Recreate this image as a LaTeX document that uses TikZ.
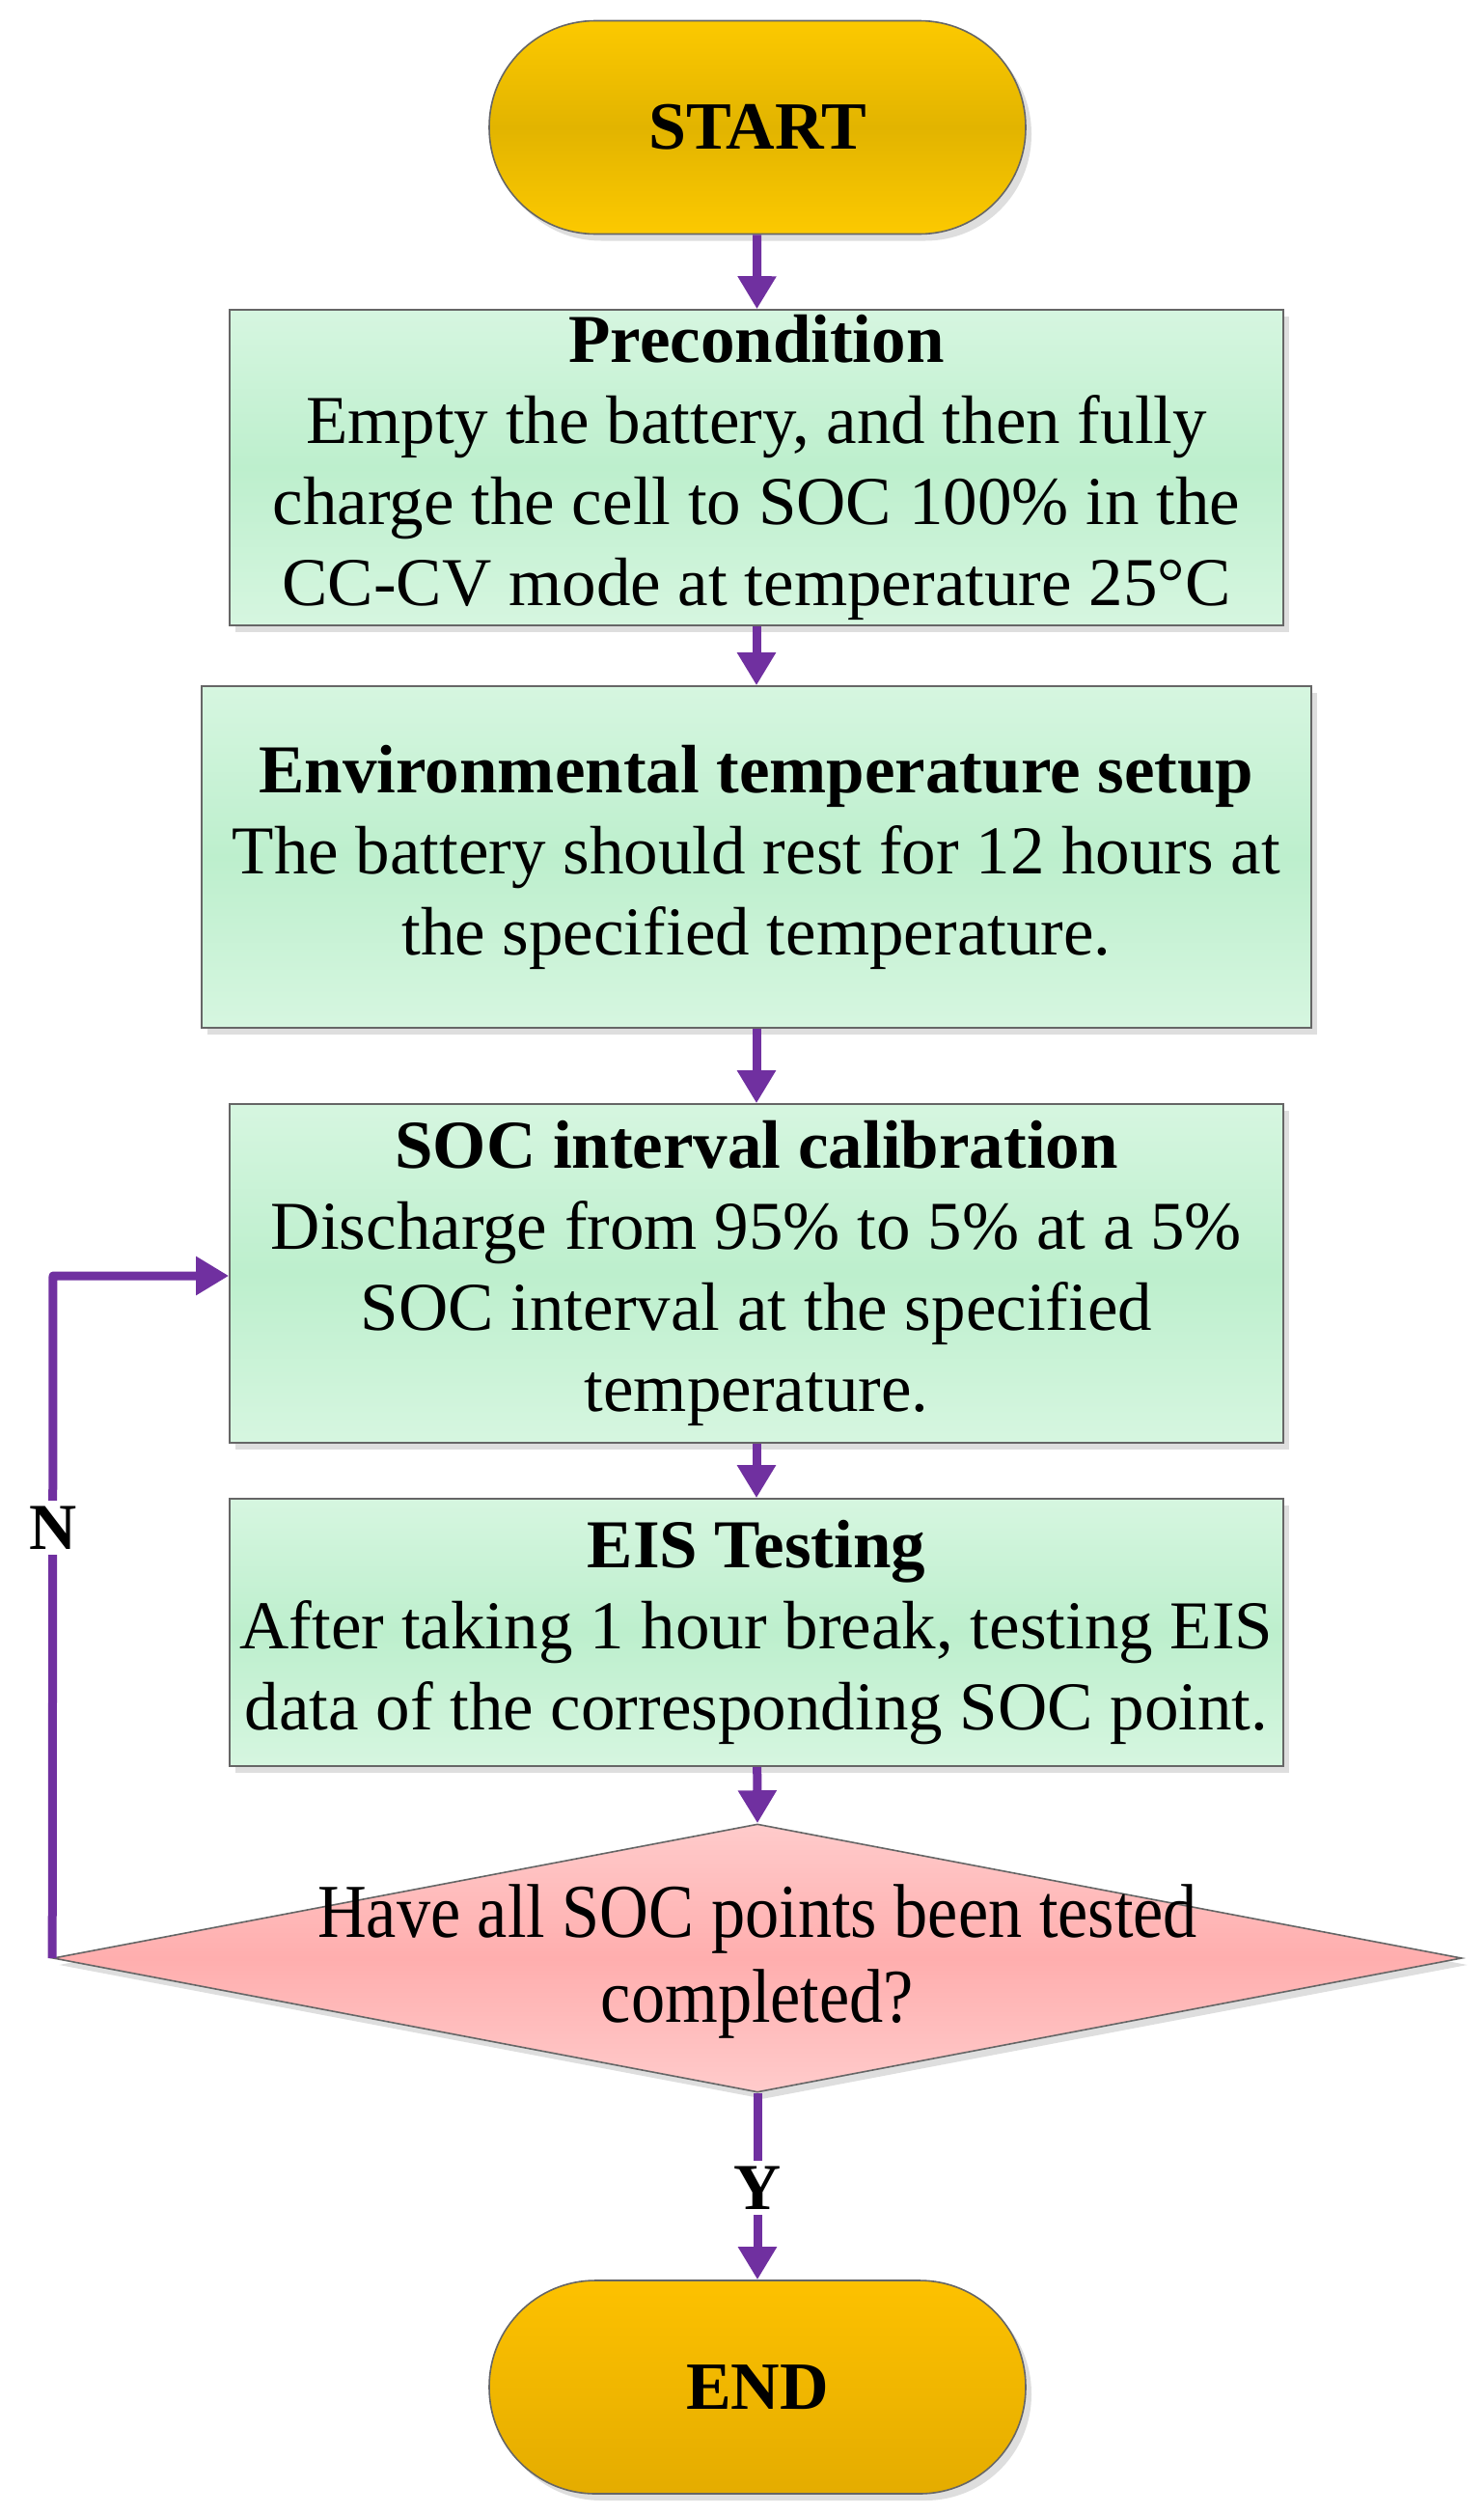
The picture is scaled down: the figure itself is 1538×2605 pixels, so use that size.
\documentclass[tikz,border=0pt]{standalone}
\usepackage{fontspec}
\setmainfont{Liberation Serif}
\newfontfamily\condserif[FakeStretch=0.89]{Liberation Serif}
\usetikzlibrary{shapes.geometric,arrows.meta,shadows}
\definecolor{arrowpurple}{HTML}{7030A0}
\definecolor{gold1}{HTML}{FCC900}
\definecolor{gold2}{HTML}{E2B400}
\definecolor{goldE1}{HTML}{FDC100}
\definecolor{goldE2}{HTML}{E4AC00}
\definecolor{green1}{HTML}{D6F6E0}
\definecolor{green2}{HTML}{BDEFCD}
\definecolor{pink1}{HTML}{FFCBCB}
\definecolor{pink2}{HTML}{FFAEAE}
\definecolor{edgegray}{HTML}{666666}
\tikzset{
  myshadow/.style={drop shadow={shadow xshift=6pt,shadow yshift=-7pt,fill=black!13,opacity=1}},
  termbox/.style={draw=edgegray,line width=1.6pt,rounded corners=110pt,minimum width=556pt,minimum height=221pt,
    inner sep=0pt,font={\fontsize{70}{84}\selectfont\bfseries},myshadow},
  stepbox/.style={draw=edgegray,line width=1.6pt,rectangle,inner sep=0pt,align=center,
    font={\fontsize{71}{84}\selectfont},top color=green1,bottom color=green1,middle color=green2,myshadow},
  decbox/.style={draw=edgegray,line width=1.6pt,diamond,inner sep=0pt,top color=pink1,bottom color=pink1,middle color=pink2,myshadow},
  flow/.style={draw=arrowpurple,line width=9pt,-{Triangle[length=34pt,width=38pt]}},
  looplabel/.style={font={\fontsize{68}{80}\selectfont\bfseries},fill=white,inner sep=6pt}
}
\begin{document}
\begin{tikzpicture}[x=1pt,y=-1pt]
\useasboundingbox (0,0) rectangle (1538,2605);
\node[termbox,top color=gold1,bottom color=gold1,middle color=gold2] (start) at (785,132) {START};
\node[stepbox,minimum width=1092pt,minimum height=327pt] (pre) at (784,484.5)
  {\textbf{Precondition}\\Empty the battery, and then fully\\charge the cell to SOC 100\% in the\\CC-CV mode at temperature 25°C};
\node[stepbox,minimum width=1150pt,minimum height=354pt] (env) at (784,888)
  {\textbf{Environmental temperature setup}\\The battery should rest for 12 hours at\\the specified temperature.};
\node[stepbox,minimum width=1092pt,minimum height=351pt] (soc) at (784,1319.5)
  {\textbf{SOC interval calibration}\\Discharge from 95\% to 5\% at a 5\%\\SOC interval at the specified\\temperature.};
\node[stepbox,minimum width=1092pt,minimum height=277pt] (eis) at (784,1691.5)
  {\textbf{EIS Testing}\\After taking 1 hour break, testing EIS\\data of the corresponding SOC point.};
\node[decbox,minimum width=1460pt,minimum height=278pt] (dec) at (785,2029) {};
\node[align=center,font={\condserif\fontsize{79}{88}\selectfont}] (dectext) at (785,2032)
  {Have all SOC points been tested\\completed?};
\node[termbox,top color=goldE1,bottom color=goldE2] (end) at (785,2473.5) {END};
\coordinate (loopc) at (55,1322);
\draw[flow] (start) -- (pre);
\draw[flow] (pre) -- (env);
\draw[flow] (env) -- (soc);
\draw[flow] (soc) -- (eis);
\draw[flow] (eis) -- (dec.north);
\draw[flow] (dec.south) -- (end);
\draw[flow,line join=round] (dec.west) -- (loopc) -- (soc.west |- loopc);
\node[looplabel] (nlabel) at (55,1583) {N};
\node[looplabel] (ylabel) at (785,2267) {Y};
\end{tikzpicture}
\end{document}
